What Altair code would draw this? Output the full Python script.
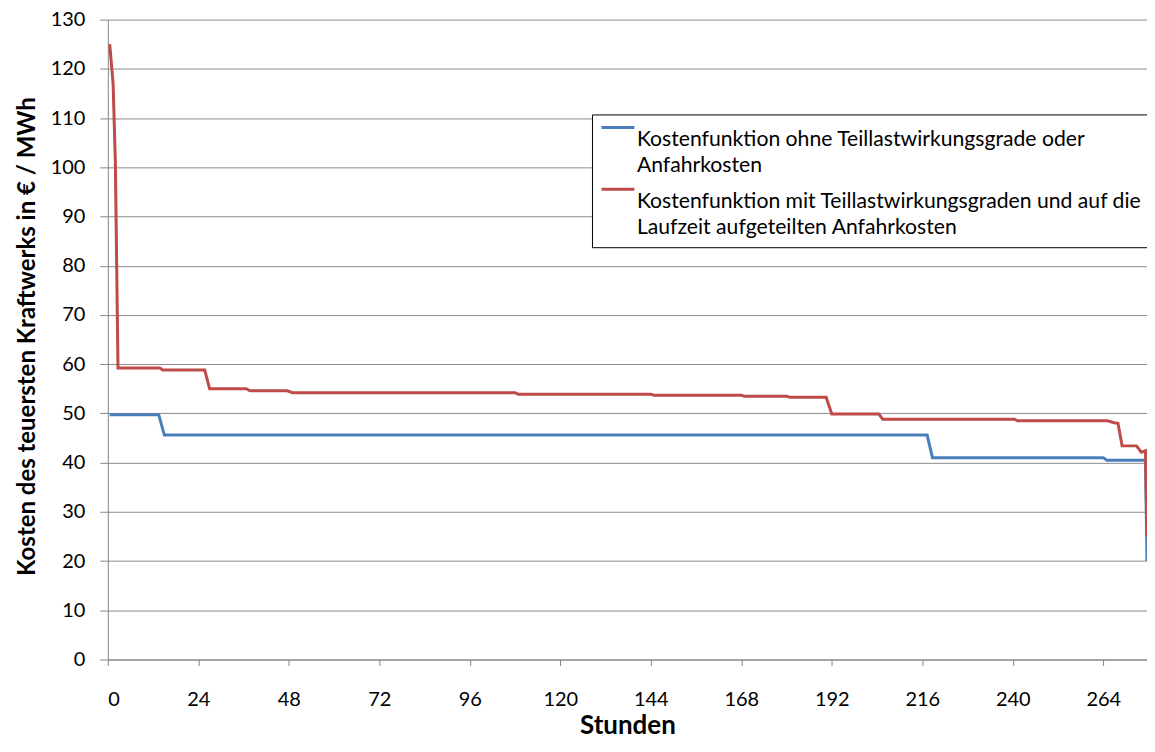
import altair as alt
import pandas as pd

# ---- data ----
series_blue = "Kostenfunktion ohne Teillastwirkungsgrade oder Anfahrkosten"
series_red = "Kostenfunktion mit Teillastwirkungsgraden und auf die Laufzeit aufgeteilten Anfahrkosten"
legend_lines_blue = ["Kostenfunktion ohne Teillastwirkungsgrade oder", "Anfahrkosten"]
legend_lines_red = ["Kostenfunktion mit Teillastwirkungsgraden und auf die", "Laufzeit aufgeteilten Anfahrkosten"]

blue_hours = [0.5, 13.5, 15.0, 217.3, 218.7, 264.0, 265.0, 275.2, 275.6]
blue_values = [49.7, 49.7, 45.6, 45.6, 41.0, 41.0, 40.5, 40.5, 20.0]

red_hours = [0.5, 1.4, 2.0, 2.7, 13.8, 14.6, 25.7, 27.0, 36.7, 37.7, 47.6, 49.0,
             108.0, 108.8, 144.0, 144.8, 168.0, 168.8, 180.0, 180.8, 190.5, 192.0,
             204.5, 205.5, 240.5, 241.2, 265.1, 266.9, 267.9, 269.0, 272.8, 274.1,
             275.2, 275.6]
red_values = [125.0, 117.0, 101.0, 59.2, 59.2, 58.8, 58.8, 55.0, 55.0, 54.6, 54.6, 54.2,
              54.2, 53.9, 53.9, 53.7, 53.7, 53.5, 53.5, 53.3, 53.3, 49.9,
              49.9, 48.8, 48.8, 48.5, 48.5, 48.1, 48.0, 43.4, 43.4, 42.1,
              42.4, 25.0]

y_ticks = list(range(0, 131, 10))
x_ticks = list(range(0, 265, 24))

colors = ["#4a7ebb", "#be4b48"]

df = pd.concat([
    pd.DataFrame({"Stunde": blue_hours, "Kosten": blue_values, "Serie": series_blue, "ord": 0}),
    pd.DataFrame({"Stunde": red_hours, "Kosten": red_values, "Serie": series_red, "ord": 1}),
], ignore_index=True)

def js_list(lines):
    return "[" + ",".join("'" + s + "'" for s in lines) + "]"

label_expr = (f"datum.label == '{series_blue}' ? {js_list(legend_lines_blue)} : "
              f"{js_list(legend_lines_red)}")

FONT = "Lato"

chart = alt.Chart(df).mark_line(strokeWidth=3, clip=True).encode(
    x=alt.X("Stunde:Q",
            scale=alt.Scale(domain=[0, 275.6], nice=False, zero=False),
            axis=alt.Axis(values=x_ticks, grid=False, tickSize=6, labelPadding=24,
                          labelFontSize=20, labelFont=FONT, labelColor="black",
                          domainColor="#868686", tickColor="#868686",
                          title="Stunden", titleFont=FONT, titleFontSize=26,
                          titleFontWeight="bold", titleColor="black",
                          titleY=74, titleBaseline="alphabetic")),
    y=alt.Y("Kosten:Q",
            scale=alt.Scale(domain=[0, 130], nice=False),
            axis=alt.Axis(values=y_ticks, grid=True, gridColor="#8c8c8c", gridWidth=1,
                          tickSize=8, labelPadding=15, labelFontSize=20, labelFont=FONT,
                          labelColor="black", domainColor="#868686", tickColor="#868686",
                          title="Kosten des teuersten Kraftwerks in € / MWh",
                          titleFont=FONT, titleFontSize=24, titleFontWeight="bold",
                          titleColor="black", titleX=-80, titleY=317,
                          titleBaseline="middle", titleAlign="center")),
    color=alt.Color("Serie:N",
                    scale=alt.Scale(domain=[series_blue, series_red], range=colors),
                    legend=alt.Legend(orient="none", legendX=485, legendY=95,
                                      title=None, symbolType="M-1,-0.79L1,-0.79",
                                      symbolSize=1089, symbolStrokeWidth=3,
                                      symbolFillColor="transparent",
                                      labelFont=FONT, labelFontSize=21.2,
                                      labelColor="black", labelLimit=700,
                                      labelExpr=label_expr, labelOffset=1,
                                      labelBaseline="middle",
                                      rowPadding=5, padding=8,
                                      strokeColor="black", fillColor="white",
                                      cornerRadius=0)),
    order="ord:Q",
).properties(
    width=1041, height=641,
    autosize=alt.AutoSizeParams(type="none"),
    padding={"left": 100, "top": 11, "right": 0, "bottom": 76},
).configure(
    style={"guide-label": {"lineHeight": 26}}
).configure_view(stroke=None)

chart.save("out.html", embed_options={"renderer": "svg", "actions": False})
